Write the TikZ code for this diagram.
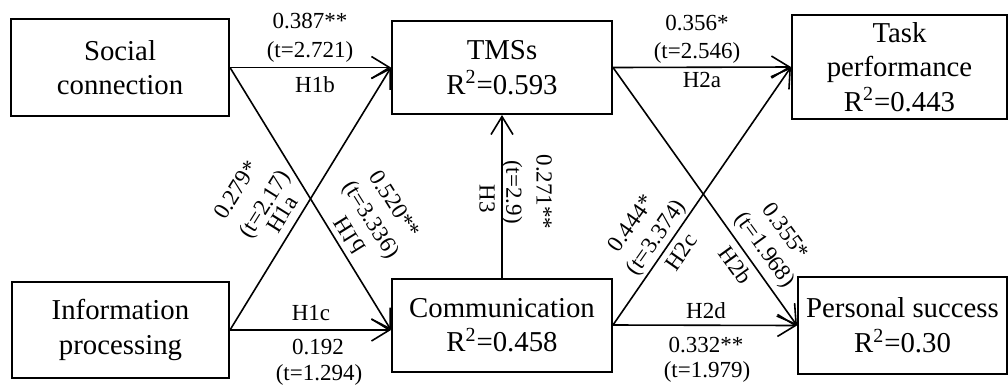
\documentclass[tikz,border=0pt]{standalone}
\usepackage{fontspec}
\setmainfont{Liberation Serif}
\usetikzlibrary{arrows.meta, calc}

\begin{document}
\begin{tikzpicture}[
  x=0.5pt, y=-0.5pt,
  box/.style={draw, line width=1pt, inner sep=0pt, align=center, font=\fontsize{14.4}{17.3}\selectfont},
  lbl/.style={inner sep=0pt, font=\fontsize{11.5}{13.5}\selectfont},
  link/.style={line width=0.8pt, -{Straight Barb[length=9pt, width=11pt]}}
]
\useasboundingbox (0,0) rectangle (1008,387);

\node[box, minimum width=109pt, minimum height=48.5pt] (soc) at (120,67.5) {Social\\connection};
\node[box, minimum width=108.5pt, minimum height=48pt] (info) at (120.5,330) {Information\\processing};
\node[box, minimum width=110pt, minimum height=46.5pt] (tms) at (502,67.5) {TMSs\\R\textsuperscript{2}=0.593};
\node[box, minimum width=110pt, minimum height=46.5pt] (comm) at (502,325) {Communication\\R\textsuperscript{2}=0.458};
\node[box, minimum width=107.5pt, minimum height=52pt] (task) at (899.5,67) {Task\\performance\\R\textsuperscript{2}=0.443};
\node[box, minimum width=104.5pt, minimum height=48.5pt] (pers) at (902.5,325.5) {Personal success\\R\textsuperscript{2}=0.30};

\coordinate (cin) at (info.east -| comm.west);

\draw[link] (soc.east) -- (tms.west);
\draw[link] (soc.east) -- (cin);
\draw[link] (info.east) -- (cin);
\draw[link] (info.east) -- (tms.west);
\draw[link] (comm.north) -- (tms.south);
\draw[link] (tms.east) -- (task.west);
\draw[link] (tms.east) -- (pers.west);
\draw[link] (comm.east) -- (pers.west);
\draw[link] (comm.east) -- (task.west);

\node[lbl] (h1b-b) at (310,21) {0.387**};
\node[lbl] (h1b-t) at (310,52) {(t=2.721)};
\node[lbl] (h1b) at (315,85) {H1b};

\node[lbl] (h2a-b) at (697,23) {0.356*};
\node[lbl] (h2a-t) at (697,53) {(t=2.546)};
\node[lbl] (h2a) at (702,80) {H2a};

\node[lbl] (h1c) at (311,313) {H1c};
\node[lbl] (h1c-b) at (318,347) {0.192};
\node[lbl] (h1c-t) at (319,375) {(t=1.294)};

\node[lbl] (h2d) at (706,311) {H2d};
\node[lbl] (h2d-b) at (706,345) {0.332**};
\node[lbl] (h2d-t) at (707,372) {(t=1.979)};

\node[lbl, rotate=-90] (h3-b) at (544,192) {0.271**};
\node[lbl, rotate=-90] (h3-t) at (512,192) {(t=2.9)};
\node[lbl, rotate=-90] (h3) at (487,199) {H3};

\node[lbl, rotate=58] (h1a-b) at (236,190) {0.279*};
\node[lbl, rotate=58] (h1a-t) at (266,205) {(t=2.17)};
\node[lbl, rotate=58] (h1a) at (282,214) {H1a};

\node[lbl, rotate=-58] (h1d-b) at (395,204) {0.520**};
\node[lbl, rotate=-58] (h1d-t) at (370,220) {(t=3.336)};
\node[lbl, rotate=-58, yscale=-1] (h1d) at (349,235) {H1d};

\node[lbl, rotate=55] (h2c-b) at (631,223) {0.444*};
\node[lbl, rotate=55] (h2c-t) at (657,238) {(t=3.374)};
\node[lbl, rotate=55] (h2c) at (681,252) {H2c};

\node[lbl, rotate=-54] (h2b-b) at (786,231) {0.355*};
\node[lbl, rotate=-54] (h2b-t) at (764,250) {(t=1.968)};
\node[lbl, rotate=-54] (h2b) at (736,265) {H2b};
\end{tikzpicture}
\end{document}
